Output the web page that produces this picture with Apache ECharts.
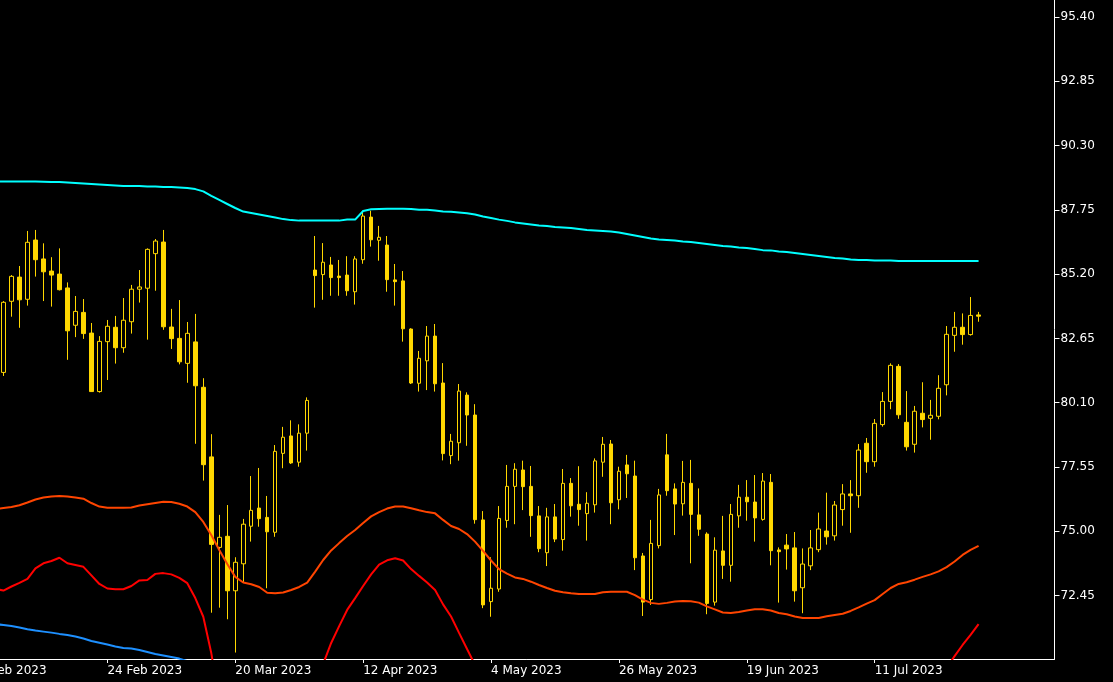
<!DOCTYPE html>
<html>
<head>
<meta charset="utf-8">
<script src="https://cdn.jsdelivr.net/npm/echarts@6/dist/echarts.min.js"></script>
<style>
html,body{margin:0;padding:0;background:#000;}
#chart{width:1113px;height:682px;}
</style>
</head>
<body>
<div id="chart"></div>
<script>
// Trading days (3 before the first visible bar, 123 bars, 9 empty slots on the right)
const dates = [
"2 Feb 2023","3 Feb 2023","6 Feb 2023",
"7 Feb 2023","8 Feb 2023","9 Feb 2023","10 Feb 2023","13 Feb 2023","14 Feb 2023","15 Feb 2023","16 Feb 2023","17 Feb 2023","20 Feb 2023","21 Feb 2023","22 Feb 2023","23 Feb 2023","24 Feb 2023","27 Feb 2023","28 Feb 2023",
"1 Mar 2023","2 Mar 2023","3 Mar 2023","6 Mar 2023","7 Mar 2023","8 Mar 2023","9 Mar 2023","10 Mar 2023","13 Mar 2023","14 Mar 2023","15 Mar 2023","16 Mar 2023","17 Mar 2023","20 Mar 2023","21 Mar 2023","22 Mar 2023","23 Mar 2023","24 Mar 2023","27 Mar 2023","28 Mar 2023","29 Mar 2023","30 Mar 2023","31 Mar 2023",
"3 Apr 2023","4 Apr 2023","5 Apr 2023","6 Apr 2023","10 Apr 2023","11 Apr 2023","12 Apr 2023","13 Apr 2023","14 Apr 2023","17 Apr 2023","18 Apr 2023","19 Apr 2023","20 Apr 2023","21 Apr 2023","24 Apr 2023","25 Apr 2023","26 Apr 2023","27 Apr 2023","28 Apr 2023",
"1 May 2023","2 May 2023","3 May 2023","4 May 2023","5 May 2023","8 May 2023","9 May 2023","10 May 2023","11 May 2023","12 May 2023","15 May 2023","16 May 2023","17 May 2023","18 May 2023","19 May 2023","22 May 2023","23 May 2023","24 May 2023","25 May 2023","26 May 2023","29 May 2023","30 May 2023","31 May 2023",
"1 Jun 2023","2 Jun 2023","5 Jun 2023","6 Jun 2023","7 Jun 2023","8 Jun 2023","9 Jun 2023","12 Jun 2023","13 Jun 2023","14 Jun 2023","15 Jun 2023","16 Jun 2023","19 Jun 2023","20 Jun 2023","21 Jun 2023","22 Jun 2023","23 Jun 2023","26 Jun 2023","27 Jun 2023","28 Jun 2023","29 Jun 2023","30 Jun 2023",
"3 Jul 2023","4 Jul 2023","5 Jul 2023","6 Jul 2023","7 Jul 2023","10 Jul 2023","11 Jul 2023","12 Jul 2023","13 Jul 2023","14 Jul 2023","17 Jul 2023","18 Jul 2023","19 Jul 2023","20 Jul 2023","21 Jul 2023","24 Jul 2023","25 Jul 2023","26 Jul 2023","27 Jul 2023","28 Jul 2023",
"31 Jul 2023","1 Aug 2023","2 Aug 2023","3 Aug 2023","4 Aug 2023","7 Aug 2023","8 Aug 2023","9 Aug 2023","10 Aug 2023"
];
const firstBar = 3; // index in dates of the first candle

const opens = [81.30,84.12,85.08,84.20,86.55,85.80,85.32,85.20,84.65,83.17,
83.68,82.86,80.54,82.52,83.09,82.28,83.31,84.60,84.64,86.01,
86.47,83.10,82.65,81.66,82.51,80.71,77.95,74.36,74.80,72.64,
73.71,75.20,75.92,75.55,74.96,78.09,78.78,77.74,78.89,85.36,
85.18,85.56,85.12,85.16,84.50,85.77,87.46,86.54,86.35,84.97,
84.93,83.02,80.87,81.76,82.74,80.88,78.00,78.51,80.40,79.61,
75.45,72.21,72.71,75.43,76.78,77.43,76.78,75.61,74.15,75.57,
74.67,76.90,76.07,75.70,76.05,77.74,78.46,76.25,77.63,77.19,
74.02,72.29,74.43,78.03,76.68,76.09,76.90,75.65,74.89,72.19,
74.22,73.65,75.61,76.35,76.16,75.47,76.94,74.26,74.45,74.34,
72.76,73.63,74.27,75.01,74.82,75.86,76.48,76.41,78.49,77.76,
79.23,80.15,81.54,79.32,78.45,79.68,79.48,79.56,80.81,82.77,
83.09,82.80,83.58];
const closes = [84.08,85.11,84.18,86.46,85.77,85.29,85.16,84.58,82.95,83.72,
82.84,80.54,82.53,83.13,82.28,83.37,84.60,84.69,86.18,86.51,
83.11,82.64,81.72,82.85,80.77,77.64,74.48,74.76,72.64,73.77,
75.28,75.83,75.50,74.98,78.17,78.73,77.71,78.89,80.19,85.14,
85.67,85.06,85.06,84.54,85.80,87.50,86.56,86.66,84.98,84.90,
83.03,80.88,81.86,82.74,80.85,78.08,78.57,80.56,79.61,75.46,
72.08,72.74,75.51,76.78,77.46,76.77,75.62,74.31,75.57,74.69,
76.90,76.01,75.86,76.11,77.79,78.45,76.13,77.38,77.28,73.95,
72.19,74.52,76.44,76.61,76.08,76.94,75.67,75.08,72.14,74.25,
73.65,75.67,76.35,76.17,75.53,76.99,74.23,74.19,74.30,72.64,
73.70,74.34,75.09,74.78,76.04,76.48,76.41,78.22,77.76,79.28,
80.15,81.58,79.62,78.35,79.76,79.43,79.60,80.67,82.81,83.09,
82.80,83.56,83.53];
const lows = [81.16,83.51,83.07,83.95,85.10,84.13,83.91,84.55,81.80,82.70,
82.63,80.54,80.50,81.00,81.65,82.08,82.84,84.07,82.60,84.54,
82.99,82.23,81.62,80.89,78.47,77.01,71.77,71.97,71.51,70.19,
72.99,74.59,75.18,72.74,74.78,77.50,77.67,77.56,78.20,83.87,
84.18,84.34,84.34,84.34,83.99,85.61,86.29,85.73,84.50,83.95,
82.52,80.84,80.54,80.60,80.54,77.81,77.66,77.80,78.39,75.30,
71.95,71.61,72.60,75.14,75.28,75.84,74.78,74.17,73.62,74.57,
74.23,75.58,75.22,74.63,75.74,77.16,75.28,75.87,76.32,73.46,
71.64,72.08,74.32,76.41,74.85,75.62,73.73,74.82,71.71,72.05,
73.11,73.00,75.14,75.42,74.59,75.42,73.65,72.17,73.48,72.21,
71.75,73.46,74.17,74.47,74.63,75.22,74.94,75.93,77.32,77.56,
79.15,79.84,79.46,78.20,78.12,79.12,78.63,79.44,80.39,82.12,
82.40,82.76,83.31];
const highs = [84.13,85.16,85.52,86.91,86.95,86.42,85.87,86.22,84.87,84.33,
84.21,83.26,82.74,83.38,83.54,84.25,84.77,85.36,86.22,86.59,
86.95,83.82,84.17,83.30,83.62,81.07,78.85,75.65,76.04,73.97,
75.49,77.19,77.51,76.40,78.42,79.14,79.40,79.24,80.31,86.71,
86.43,85.88,85.76,85.91,85.91,87.71,87.71,87.11,86.71,85.60,
85.32,83.05,82.15,83.14,83.22,81.67,78.86,80.84,80.51,80.04,
75.80,73.97,76.00,77.63,77.70,77.80,77.59,76.00,75.93,76.08,
77.47,77.11,77.58,76.55,77.89,78.74,78.62,77.56,78.03,77.80,
74.14,75.45,76.68,78.86,76.90,77.79,77.83,76.70,74.96,74.76,
75.61,76.08,76.84,77.03,77.23,77.31,77.27,74.36,74.89,74.97,
74.32,75.05,75.74,76.53,76.20,76.87,77.03,78.46,78.70,79.45,
80.52,81.66,81.63,80.56,79.97,80.91,80.21,81.19,83.14,83.70,
83.64,84.29,83.70];

// Indicator lines, aligned with dates (null = not visible on the chart)
const cyanLine = [null,null,88.87,
88.87,88.87,88.87,88.87,88.87,88.86,88.85,88.85,88.83,88.81,
88.79,88.77,88.75,88.73,88.71,88.69,88.69,88.69,88.67,88.67,
88.65,88.65,88.63,88.61,88.57,88.48,88.30,88.14,87.98,87.82,
87.68,87.62,87.56,87.50,87.44,87.38,87.34,87.32,87.32,87.32,
87.32,87.32,87.32,87.36,87.36,87.70,87.77,87.78,87.79,87.79,
87.79,87.78,87.75,87.75,87.72,87.68,87.67,87.64,87.61,87.56,
87.48,87.42,87.36,87.31,87.25,87.21,87.17,87.13,87.11,87.07,
87.05,87.03,86.99,86.95,86.93,86.91,86.89,86.85,86.79,86.73,
86.67,86.61,86.57,86.55,86.53,86.49,86.47,86.43,86.39,86.35,
86.31,86.29,86.25,86.23,86.19,86.15,86.14,86.10,86.08,86.04,
86.00,85.96,85.92,85.88,85.84,85.82,85.78,85.76,85.76,85.74,
85.74,85.74,85.72,85.72,85.72,85.72,85.72,85.72,85.72,85.72,
85.72,85.72,85.72];
const orangeLine = [null,null,75.88,
75.92,75.96,76.03,76.14,76.26,76.34,76.38,76.40,76.38,76.34,
76.29,76.12,75.98,75.93,75.93,75.93,75.94,76.02,76.07,76.12,
76.17,76.16,76.09,75.98,75.76,75.37,74.85,74.26,73.70,73.19,
72.97,72.90,72.79,72.56,72.54,72.57,72.67,72.79,72.96,73.40,
73.86,74.24,74.53,74.81,75.05,75.33,75.59,75.76,75.90,75.98,
75.98,75.91,75.83,75.76,75.71,75.45,75.21,75.09,74.89,74.59,
74.22,73.84,73.50,73.32,73.17,73.11,73.00,72.87,72.75,72.64,
72.58,72.54,72.51,72.51,72.51,72.58,72.60,72.60,72.60,72.47,
72.29,72.16,72.12,72.16,72.21,72.23,72.22,72.17,72.02,71.90,
71.78,71.76,71.80,71.86,71.91,71.91,71.86,71.76,71.71,71.62,
71.56,71.56,71.56,71.63,71.68,71.73,71.84,71.98,72.13,72.27,
72.51,72.75,72.91,72.98,73.08,73.19,73.29,73.41,73.58,73.80,
74.06,74.26,74.42];
const redLine = [null,null,72.71,
72.65,72.81,72.95,73.11,73.53,73.73,73.82,73.95,73.73,73.66,
73.59,73.25,72.91,72.73,72.70,72.70,72.83,73.05,73.07,73.31,
73.34,73.29,73.15,72.94,72.35,71.61,70.17,68.31,null,null,
null,null,null,null,null,null,null,null,null,null,
69.74,70.57,71.24,71.88,72.35,72.83,73.29,73.68,73.85,73.93,
73.84,73.50,73.23,72.97,72.67,72.10,71.62,70.97,70.33,69.70,
null,null,null,null,null,null,null,null,null,null,
null,null,null,null,null,null,null,null,null,null,
null,null,null,null,null,null,null,null,null,null,
null,null,null,null,null,null,null,null,null,null,
null,null,null,null,null,null,null,null,null,null,
null,null,null,null,null,null,null,null,69.58,70.05,
70.49,70.89,71.32];
const blueLine = [null,null,71.32,
71.28,71.24,71.18,71.11,71.06,71.02,70.98,70.93,70.89,70.83,
70.75,70.65,70.58,70.51,70.43,70.37,70.35,70.29,70.21,70.13,
70.07,70.01,69.95,69.85];

const priceTicks = [72.45,75.00,77.55,80.10,82.65,85.20,87.75,90.30,92.85,95.40];
const yMin = 69.934, yMax = 96.07;

const candleData = dates.map((d, i) => {
  const k = i - firstBar;
  if (k < 0 || k >= opens.length) return ['-','-','-','-'];
  return [opens[k], closes[k], lows[k], highs[k]];
});

const labelEvery = (i) => i % 16 === 0 && i < firstBar + opens.length;

const chart = echarts.init(document.getElementById('chart'), null, {renderer: 'canvas'});
const font = 'DejaVu Sans';
chart.setOption({
  backgroundColor: '#000000',
  animation: false,
  grid: {left: -24.5, right: 58.5, top: 0, bottom: 23, containLabel: false, outerBoundsMode: 'none'},
  xAxis: {
    type: 'category',
    data: dates,
    boundaryGap: true,
    axisLine: {show: true, lineStyle: {color: '#ffffff', width: 1}},
    axisTick: {show: true, alignWithLabel: true, interval: labelEvery, length: 4, lineStyle: {color: '#ffffff'}},
    axisLabel: {interval: labelEvery, color: '#ffffff', fontFamily: font, fontSize: 12, align: 'left', margin: 6},
    splitLine: {show: false}
  },
  yAxis: {
    type: 'value',
    position: 'right',
    min: yMin,
    max: yMax,
    scale: true,
    axisLine: {show: true, lineStyle: {color: '#ffffff', width: 1}},
    axisTick: {show: true, inside: false, length: 5, customValues: priceTicks, lineStyle: {color: '#ffffff'}},
    axisLabel: {show: true, customValues: priceTicks, color: '#ffffff', fontFamily: font, fontSize: 12, margin: 6,
      formatter: (v) => Number(v).toFixed(2)},
    splitLine: {show: false}
  },
  series: [
    {
      type: 'candlestick',
      data: candleData,
      barWidth: 4,
      z: 2,
      itemStyle: {
        color: '#000000',
        color0: '#FFD700',
        borderColor: '#FFD700',
        borderColor0: '#FFD700',
        borderWidth: 1
      }
    },
    {type: 'line', data: cyanLine, showSymbol: false, symbol: 'none', z: 3, lineStyle: {color: '#00FFFF', width: 2}},
    {type: 'line', data: orangeLine, showSymbol: false, symbol: 'none', z: 3, lineStyle: {color: '#FF4500', width: 2}},
    {type: 'line', data: redLine, showSymbol: false, symbol: 'none', z: 3, lineStyle: {color: '#FF0000', width: 2}},
    {type: 'line', data: blueLine, showSymbol: false, symbol: 'none', z: 3, lineStyle: {color: '#1E90FF', width: 2}}
  ]
});
</script>
</body>
</html>
